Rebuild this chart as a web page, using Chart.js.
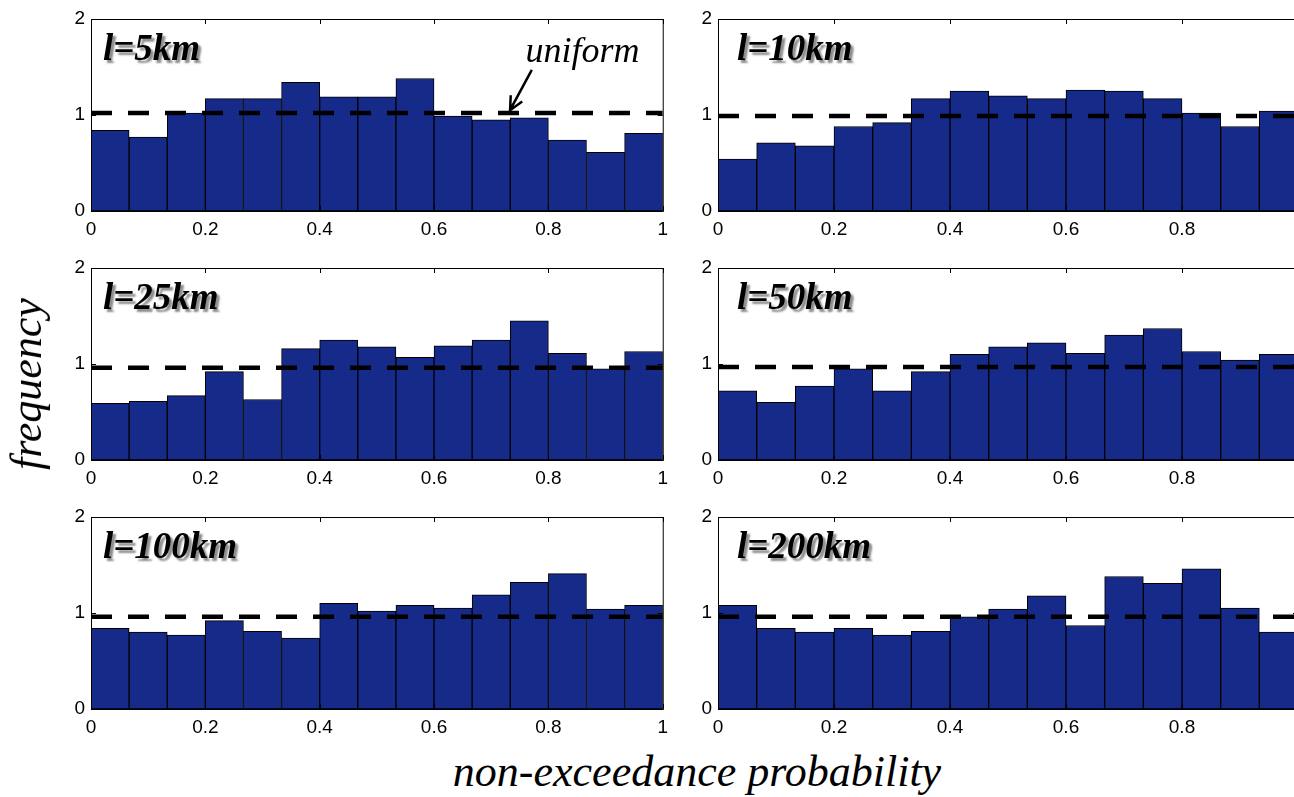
<!DOCTYPE html>
<html>
<head>
<meta charset="utf-8">
<script src="https://cdn.jsdelivr.net/npm/chart.js@4.4.1/dist/chart.umd.min.js"></script>
<style>
  html, body { margin: 0; padding: 0; background: #fff; overflow: hidden; }
  body { width: 1294px; height: 797px; position: relative; }
  .panel { position: absolute; height: 245px; }
  .axis-title {
    position: absolute;
    font-family: "Liberation Serif", "Times New Roman", serif;
    font-style: italic;
    font-size: 44px;
    line-height: 1;
    white-space: nowrap;
    color: #000;
  }
</style>
</head>
<body>
<div class="panel" style="left:0;top:0;width:675px"><canvas id="p0"></canvas></div>
<div class="panel" style="left:627px;top:0;width:691px"><canvas id="p1"></canvas></div>
<div class="panel" style="left:0;top:249px;width:675px"><canvas id="p2"></canvas></div>
<div class="panel" style="left:627px;top:249px;width:691px"><canvas id="p3"></canvas></div>
<div class="panel" style="left:0;top:498px;width:675px"><canvas id="p4"></canvas></div>
<div class="panel" style="left:627px;top:498px;width:691px"><canvas id="p5"></canvas></div>

<div class="axis-title" style="left:27px;top:384px;transform:translate(-50%,-50%) rotate(-90deg)">frequency</div>
<div class="axis-title" style="left:697px;top:772px;transform:translate(-50%,-50%)">non-exceedance probability</div>

<script>
// bins of the histogram (15 equal bins over 0..1)
const binLabels = [
  "0-0.07", "0.07-0.13", "0.13-0.2", "0.2-0.27", "0.27-0.33",
  "0.33-0.4", "0.4-0.47", "0.47-0.53", "0.53-0.6", "0.6-0.67",
  "0.67-0.73", "0.73-0.8", "0.8-0.87", "0.87-0.93", "0.93-1",
];

const panelLabels = ["l=5km", "l=10km", "l=25km", "l=50km", "l=100km", "l=200km"];

// frequency per bin
const freq5km = [0.84, 0.77, 1.02, 1.17, 1.17, 1.34, 1.19, 1.19, 1.38, 0.99, 0.95, 0.97, 0.74, 0.61, 0.81];
const freq10km = [0.54, 0.71, 0.68, 0.88, 0.92, 1.17, 1.25, 1.2, 1.17, 1.26, 1.25, 1.17, 1.02, 0.88, 1.04];
const freq25km = [0.59, 0.61, 0.67, 0.92, 0.63, 1.16, 1.25, 1.18, 1.07, 1.19, 1.25, 1.45, 1.11, 0.95, 1.13];
const freq50km = [0.72, 0.6, 0.77, 0.95, 0.72, 0.92, 1.1, 1.18, 1.22, 1.11, 1.3, 1.37, 1.13, 1.04, 1.1];
const freq100km = [0.84, 0.8, 0.77, 0.92, 0.81, 0.74, 1.1, 1.02, 1.08, 1.05, 1.19, 1.32, 1.41, 1.04, 1.08];
const freq200km = [1.08, 0.84, 0.8, 0.84, 0.77, 0.81, 0.96, 1.04, 1.18, 0.87, 1.38, 1.31, 1.46, 1.05, 0.8];

// level of the dashed "uniform" line in each panel
const uniformLevels = [1.02, 0.99, 0.96, 0.97, 0.96, 0.96];

const xTickValues = [0, 0.2, 0.4, 0.6, 0.8, 1];
const yTickValues = [0, 1, 2];

const allFreqs = [freq5km, freq10km, freq25km, freq50km, freq100km, freq200km];

const barColor = "#162a8a";
const tickFont = { family: "'Liberation Sans', Arial, sans-serif", size: 19 };

// box, inward ticks, panel label and the "uniform" arrow
const panelDecor = {
  id: "panelDecor",
  afterDatasetsDraw(chart, args, opts) {
    const { ctx, chartArea: a, scales } = chart;
    const xs = scales.x;
    const ys = scales.y;
    ctx.save();
    ctx.strokeStyle = "#000";
    ctx.lineWidth = 1;
    ctx.strokeRect(a.left + 0.5, a.top + 0.5, a.width, a.height);

    const tl = 5;
    ctx.beginPath();
    for (const v of xTickValues) {
      const px = Math.round(xs.getPixelForValue(v)) + 0.5;
      ctx.moveTo(px, a.bottom);
      ctx.lineTo(px, a.bottom - tl);
      ctx.moveTo(px, a.top);
      ctx.lineTo(px, a.top + tl);
    }
    for (const v of yTickValues) {
      const py = Math.round(ys.getPixelForValue(v)) + 0.5;
      ctx.moveTo(a.left, py);
      ctx.lineTo(a.left + tl, py);
      ctx.moveTo(a.right, py);
      ctx.lineTo(a.right - tl, py);
    }
    ctx.stroke();

    // panel label with a soft shadow
    ctx.font = "italic bold 37px 'Liberation Serif', 'Times New Roman', serif";
    ctx.textBaseline = "alphabetic";
    ctx.textAlign = "left";
    ctx.shadowColor = "rgba(0,0,0,0.45)";
    ctx.shadowOffsetX = 3;
    ctx.shadowOffsetY = 3;
    ctx.shadowBlur = 2;
    ctx.fillStyle = "#000";
    ctx.fillText(opts.label, a.left + opts.labelDx, a.top + 41);
    ctx.shadowColor = "transparent";

    if (opts.uniform) {
      ctx.font = "italic 36px 'Liberation Serif', 'Times New Roman', serif";
      ctx.fillText("uniform", xs.getPixelForValue(0.76), ys.getPixelForValue(1.55));
      const x0 = xs.getPixelForValue(0.771), y0 = ys.getPixelForValue(1.47);
      const x1 = xs.getPixelForValue(0.733), y1 = ys.getPixelForValue(1.05);
      const ang = Math.atan2(y1 - y0, x1 - x0);
      const hl = 15, spread = 0.45;
      ctx.lineWidth = 2.5;
      ctx.beginPath();
      ctx.moveTo(x0, y0);
      ctx.lineTo(x1, y1);
      ctx.moveTo(x1 - hl * Math.cos(ang - spread), y1 - hl * Math.sin(ang - spread));
      ctx.lineTo(x1, y1);
      ctx.lineTo(x1 - hl * Math.cos(ang + spread), y1 - hl * Math.sin(ang + spread));
      ctx.stroke();
    }
    ctx.restore();
  },
};

const makePanel = function (idx) {
  const isRight = idx % 2 === 1;
  const u = uniformLevels[idx];
  return new Chart(document.getElementById("p" + idx), {
    type: "bar",
    plugins: [panelDecor],
    data: {
      labels: binLabels,
      datasets: [
        {
          type: "line",
          xAxisID: "x",
          data: [{ x: 0, y: u }, { x: 1, y: u }],
          borderColor: "#000",
          borderWidth: 4.5,
          borderDash: [21, 16],
          pointRadius: 0,
          order: 0,
        },
        {
          type: "bar",
          xAxisID: "xBins",
          data: allFreqs[idx],
          backgroundColor: barColor,
          borderColor: "#000",
          borderWidth: 1,
          borderSkipped: false,
          barPercentage: 1,
          categoryPercentage: 1,
          grouped: false,
          order: 1,
        },
      ],
    },
    options: {
      responsive: true,
      maintainAspectRatio: false,
      animation: false,
      datasets: { bar: { barPercentage: 1, categoryPercentage: 1 } },
      layout: { padding: { top: 19, right: isRight ? 20 : 10, bottom: 0, left: 0 } },
      plugins: {
        legend: { display: false },
        tooltip: { enabled: false },
        panelDecor: { label: panelLabels[idx], uniform: idx === 0, labelDx: isRight ? 19 : 12 },
      },
      scales: {
        xBins: { type: "category", display: false, offset: true },
        x: {
          type: "linear",
          position: "bottom",
          offset: false,
          min: 0,
          max: 1,
          afterBuildTicks: (s) => { s.ticks = xTickValues.map((v) => ({ value: v })); },
          afterFit: (s) => { s.height = 34; },
          grid: { display: false, drawTicks: false, offset: false },
          border: { display: false },
          ticks: {
            color: "#000",
            font: tickFont,
            padding: 7,
            maxRotation: 0,
            autoSkip: false,
            callback: (v) => String(Math.round(v * 10) / 10),
          },
        },
        y: {
          min: 0,
          max: 2,
          afterBuildTicks: (s) => { s.ticks = yTickValues.map((v) => ({ value: v })); },
          afterFit: (s) => { s.width = 91; },
          grid: { display: false, drawTicks: false },
          border: { display: false },
          ticks: { color: "#000", font: tickFont, padding: 6 },
        },
      },
    },
  });
};

for (let i = 0; i < 6; i++) {
  makePanel(i);
}
</script>
</body>
</html>
